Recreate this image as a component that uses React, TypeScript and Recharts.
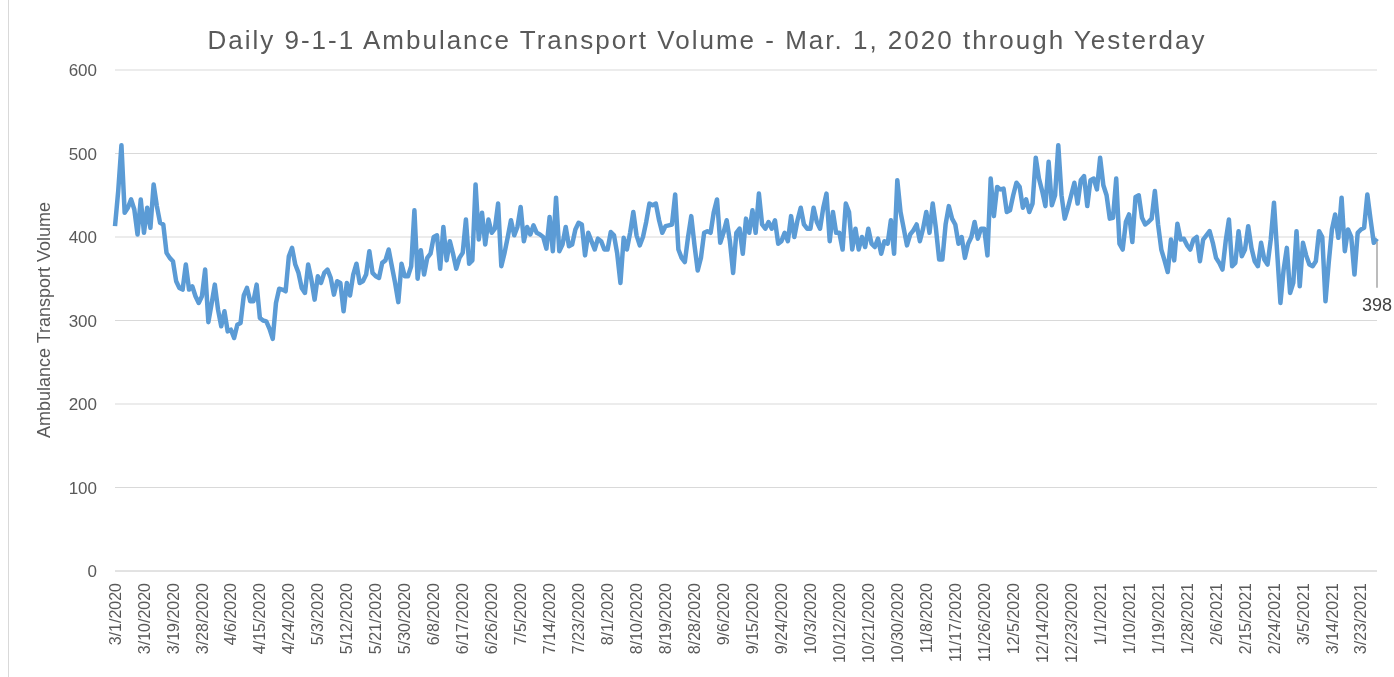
import React from 'react';
import { LineChart, Line, XAxis, YAxis, CartesianGrid, ReferenceDot } from 'recharts';

const mar2020 = [413,455,510,429,435,445,433,403,445,405,435,411,463,437,417,415,381,375,371,347,339,337,367,337,341,329,321,329,361,298,320];
const apr2020 = [343,313,293,311,287,289,279,295,297,330,339,323,323,343,303,300,299,290,278,321,338,337,335,377,387,367,357,339,333,367];
const may2020 = [349,325,353,345,357,361,351,331,347,345,311,345,330,355,368,345,347,355,383,357,353,351,369,372,385,365,345,322,368,353,353];
const jun2020 = [365,432,350,384,355,375,380,400,402,362,412,372,395,380,362,375,381,421,368,372,463,397,429,391,421,405,410,440,365,381];
const jul2020 = [400,420,402,412,436,395,412,403,414,405,403,400,386,424,383,447,383,391,412,389,391,409,417,415,378,405,395,385,398,395,385];
const aug2020 = [385,406,402,380,345,399,385,405,430,402,390,400,418,440,438,440,420,405,413,414,415,451,385,375,370,400,425,390,360,375,405];
const sep2020 = [407,405,430,445,393,405,420,395,357,405,410,380,422,405,432,405,452,415,410,418,410,420,392,395,405,395,425,400,420,435];
const oct2020 = [415,410,410,435,418,410,435,452,395,430,405,405,385,440,430,385,410,385,400,388,410,392,388,398,380,395,392,420,380,468,430];
const nov2020 = [410,390,403,408,415,395,410,430,405,440,410,373,373,415,437,422,415,392,400,375,392,400,418,398,410,410,378,470,425,460];
const dec2020 = [457,458,430,432,450,465,460,435,445,430,440,495,470,455,437,490,438,450,510,450,422,435,450,465,440,468,473,437,468,470,457];
const jan2021 = [495,462,450,422,423,470,392,385,418,427,394,448,450,423,415,418,422,455,415,385,372,358,397,372,416,397,398,390,385,397,400];
const feb2021 = [371,397,402,407,393,375,369,361,395,421,365,369,407,377,385,413,387,371,365,393,373,367,397,441,381,321,361,387];
const mar2021 = [333,345,407,341,393,378,367,365,371,407,400,323,369,409,427,399,447,383,409,400,355,405,409,411,451,421,393,398];

const yTicks = [0, 100, 200, 300, 400, 500, 600];
const titleText = 'Daily 9-1-1 Ambulance Transport Volume - Mar. 1, 2020 through Yesterday';
const yAxisTitle = 'Ambulance Transport Volume';

const volumes = [
  ...mar2020, ...apr2020, ...may2020, ...jun2020, ...jul2020, ...aug2020,
  ...sep2020, ...oct2020, ...nov2020, ...dec2020, ...jan2021, ...feb2021, ...mar2021,
];

const dates = volumes.map((_, i) => {
  const d = new Date(2020, 2, 1 + i);
  return `${d.getMonth() + 1}/${d.getDate()}/${d.getFullYear()}`;
});

const data = volumes.map((v, i) => ({ date: dates[i], volume: v }));
const lastIdx = data.length - 1;

const FONT = '"Liberation Sans", Arial, sans-serif';
const TEXT = '#595959';

const XTick = (props: any) => {
  const { x, y, payload } = props;
  return (
    <text
      x={x}
      y={y}
      transform={`rotate(-90 ${x} ${y})`}
      textAnchor="end"
      dy="0.35em"
      fill={TEXT}
      fontSize={16}
      fontFamily={FONT}
    >
      {payload.value}
    </text>
  );
};

const LastLabel = (props: any) => {
  const { cx, cy } = props;
  if (cx == null || cy == null) return <g />;
  return (
    <g>
      <line x1={cx} y1={cy + 3} x2={cx} y2={cy + 49} stroke="#a6a6a6" strokeWidth={1.5} />
      <text x={cx} y={cy + 72} textAnchor="middle" fill="#404040" fontSize={18} fontFamily={FONT}>
        {data[lastIdx].volume}
      </text>
    </g>
  );
};

export default function App() {
  return (
    <div style={{ position: 'fixed', left: 8, top: 8, width: 1386, height: 669, fontFamily: FONT }}>
      <div style={{ position: 'absolute', left: 0, top: -8, width: 1, height: 677, background: '#d9d9d9' }} />
      <div
        style={{
          position: 'absolute',
          left: 0,
          top: 17,
          width: 1398,
          textAlign: 'center',
          fontSize: 26,
          lineHeight: '30px',
          letterSpacing: '2px',
          color: TEXT,
          whiteSpace: 'nowrap',
        }}
      >
        {titleText}
      </div>
      <div
        style={{
          position: 'absolute',
          left: 36 - 200,
          top: 312 - 11,
          width: 400,
          height: 22,
          lineHeight: '22px',
          textAlign: 'center',
          fontSize: 18,
          color: TEXT,
          transform: 'rotate(-90deg)',
          whiteSpace: 'nowrap',
        }}
      >
        {yAxisTitle}
      </div>
      <LineChart
        width={1386}
        height={669}
        data={data}
        margin={{ top: 62, right: 17, bottom: 6, left: 0 }}
        style={{ overflow: 'visible' }}
      >
        <CartesianGrid vertical={false} stroke="#d9d9d9" strokeWidth={1} />
        <XAxis
          dataKey="date"
          interval={8}
          height={100}
          tickLine={false}
          axisLine={{ stroke: '#d9d9d9' }}
          tickSize={6}
          tickMargin={6}
          tick={<XTick />}
        />
        <YAxis
          width={107}
          domain={[0, 600]}
          ticks={yTicks}
          tickLine={false}
          axisLine={false}
          tickSize={6}
          tickMargin={12}
          tick={{ fill: TEXT, fontSize: 17, fontFamily: FONT }}
        />
        <Line
          type="linear"
          dataKey="volume"
          stroke="#5b9bd5"
          strokeWidth={4.5}
          dot={false}
          strokeLinejoin="round"
          isAnimationActive={false}
        />
        <ReferenceDot
          x={data[lastIdx].date}
          y={data[lastIdx].volume}
          r={0}
          shape={<LastLabel />}
          ifOverflow="visible"
        />
      </LineChart>
    </div>
  );
}
